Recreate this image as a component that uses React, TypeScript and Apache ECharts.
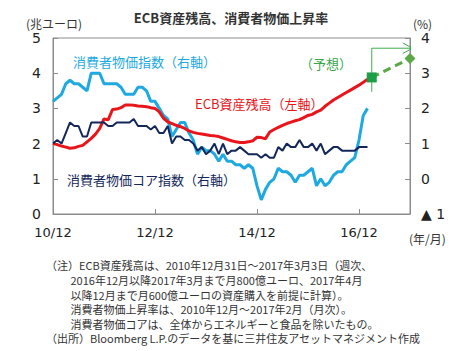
import React, { useEffect, useRef } from "react";
import * as echarts from "echarts";

// months since end of Dec 2010
const xTickLabels = ["10/12", "12/12", "14/12", "16/12"];

// ECB total assets (trillion EUR), end of month, Dec 2010 .. Feb/Mar 2017
const ecbAssets = [
  2.0, 1.97, 1.93, 1.9, 1.87, 1.88, 1.92, 1.95, 2.05, 2.15, 2.27, 2.43, 2.7,
  2.68, 2.97, 2.98, 3.02, 3.1, 3.1, 3.09, 3.07, 3.06, 3.05, 3.02, 3.0,
  2.9, 2.72, 2.62, 2.57, 2.52, 2.48, 2.43, 2.36, 2.32, 2.29, 2.27, 2.25,
  2.23, 2.22, 2.2, 2.16, 2.12, 2.08, 2.05, 2.03, 2.03, 2.05, 2.08, 2.18,
  2.17, 2.14, 2.33, 2.4, 2.46, 2.52, 2.57, 2.61, 2.65, 2.68, 2.74, 2.8,
  2.83, 2.9, 2.95, 3.06, 3.15, 3.24, 3.31, 3.38, 3.45, 3.52, 3.59, 3.66,
  3.74, 3.83,
];

// HICP yoy (%), Dec 2010 .. Feb 2017
const cpi = [
  2.2, 2.3, 2.4, 2.7, 2.8, 2.7, 2.7, 2.6, 2.5, 3.0, 3.0, 3.0, 2.7,
  2.7, 2.7, 2.7, 2.6, 2.4, 2.4, 2.4, 2.6, 2.6, 2.5, 2.2, 2.2,
  2.0, 1.8, 1.7, 1.2, 1.4, 1.6, 1.6, 1.3, 1.1, 0.7, 0.9, 0.8,
  0.8, 0.7, 0.5, 0.7, 0.5, 0.5, 0.4, 0.4, 0.3, 0.4, 0.3, -0.2,
  -0.6, -0.3, -0.1, 0.0, 0.3, 0.2, 0.2, 0.1, -0.1, 0.1, 0.1, 0.2,
  0.3, -0.2, 0.0, -0.2, -0.1, 0.1, 0.2, 0.2, 0.4, 0.5, 0.6, 1.1,
  1.8, 2.0,
];

// Core HICP yoy (%), Dec 2010 .. Feb 2017
const coreCpi = [
  1.0, 1.1, 1.0, 1.3, 1.6, 1.5, 1.5, 1.2, 1.2, 1.6, 1.6, 1.6, 1.6,
  1.5, 1.5, 1.6, 1.6, 1.6, 1.6, 1.7, 1.5, 1.5, 1.5, 1.4, 1.5,
  1.3, 1.3, 1.5, 1.0, 1.2, 1.2, 1.1, 1.1, 1.0, 0.8, 0.9, 0.7,
  0.8, 1.0, 0.7, 1.0, 0.7, 0.8, 0.8, 0.9, 0.8, 0.7, 0.7, 0.7,
  0.6, 0.7, 0.6, 0.6, 0.9, 0.8, 1.0, 0.9, 0.9, 1.1, 0.9, 0.9,
  1.0, 0.8, 1.0, 0.7, 0.8, 0.9, 0.9, 0.8, 0.8, 0.8, 0.8, 0.9,
  0.9, 0.9,
];

// forecast of ECB assets: [month index, trillion EUR]
const forecastX = [75, 84];
const forecastY = [3.88, 4.42];

// forecast bracket arrow (in data coordinates of left axis)
const arrowX = [75, 75, 84.5];
const arrowY = [3.47, 4.71, 4.71];
const arrowHeadX = [82.3, 84.6, 82.3];
const arrowHeadY = [4.86, 4.71, 4.56];

const notes = [
  "（注）ECB資産残高は、2010年12月31日～2017年3月3日（週次、",
  "　　 2016年12月以降2017年3月まで月800億ユーロ、2017年4月",
  "　　 以降12月まで月600億ユーロの資産購入を前提に計算）。",
  "　　 消費者物価上昇率は、2010年12月～2017年2月（月次）。",
  "　　 消費者物価コアは、全体からエネルギーと食品を除いたもの。",
  "（出所）Bloomberg L.P.のデータを基に三井住友アセットマネジメント作成",
];

const JP = "'Noto Sans CJK JP', sans-serif";
const NUM = "'DejaVu Sans', sans-serif";

export default function App() {
  const ref = useRef<HTMLDivElement>(null);
  useEffect(() => {
    if (!ref.current) return;
    const chart = echarts.init(ref.current, null, { renderer: "svg" });
    const pairs = (arr: number[]) => arr.map((v, i) => [i, v]);
    const zip = (xs: number[], ys: number[]) => xs.map((x, i) => [x, ys[i]]);

    chart.setOption({
      animation: false,
      grid: {
        left: 53,
        right: 64,
        top: 38,
        bottom: 137,
        show: true,
        borderColor: "#8c8c8c",
        borderWidth: 1,
      },
      xAxis: {
        type: "value",
        min: 0,
        max: 84,
        interval: 24,
        axisLine: { show: true, lineStyle: { color: "#8c8c8c" } },
        axisTick: { show: true, inside: true, length: 5, lineStyle: { color: "#8c8c8c" } },
        splitLine: { show: false },
        axisLabel: {
          margin: 12,
          fontSize: 13,
          fontFamily: NUM,
          color: "#222",
          showMaxLabel: false,
          formatter: (v: number) => (v % 24 === 0 ? xTickLabels[v / 24] ?? "" : ""),
        },
      },
      yAxis: [
        {
          type: "value",
          min: 0,
          max: 5,
          interval: 1,
          axisLine: { show: true, lineStyle: { color: "#8c8c8c" } },
          axisTick: { show: true, inside: true, length: 5, lineStyle: { color: "#8c8c8c" } },
          splitLine: { show: false },
          axisLabel: { margin: 12, fontSize: 14, fontFamily: NUM, color: "#222" },
        },
        {
          type: "value",
          min: -1,
          max: 4,
          interval: 1,
          position: "right",
          axisLine: { show: true, lineStyle: { color: "#8c8c8c" } },
          axisTick: { show: true, inside: true, length: 5, lineStyle: { color: "#8c8c8c" } },
          splitLine: { show: false },
          axisLabel: {
            margin: 11,
            fontSize: 14,
            fontFamily: NUM,
            color: "#222",
            formatter: (v: number) => (v < 0 ? "▲ " + Math.abs(v) : String(v)),
          },
        },
      ],
      series: [
        {
          name: "ECB資産残高",
          type: "line",
          yAxisIndex: 0,
          data: pairs(ecbAssets),
          showSymbol: false,
          lineStyle: { color: "#e8151b", width: 3 },
          z: 3,
        },
        {
          name: "消費者物価指数",
          type: "line",
          yAxisIndex: 1,
          data: pairs(cpi),
          showSymbol: false,
          lineStyle: { color: "#1ea9e1", width: 3 },
          z: 2,
        },
        {
          name: "消費者物価コア指数",
          type: "line",
          yAxisIndex: 1,
          data: pairs(coreCpi),
          showSymbol: false,
          lineStyle: { color: "#14275a", width: 2 },
          z: 4,
        },
        {
          name: "予想",
          type: "line",
          yAxisIndex: 0,
          data: zip(forecastX, forecastY).map((p, i) => ({
            value: p,
            symbol: i === 0 ? "rect" : "diamond",
            symbolSize: i === 0 ? 10 : 11,
            itemStyle: { color: i === 0 ? "#1d9f4a" : "#5aa847" },
          })),
          showSymbol: true,
          clip: false,
          lineStyle: { color: "#5aa847", width: 3, type: [8, 5] },
          z: 5,
        },
        {
          name: "arrow",
          type: "line",
          yAxisIndex: 0,
          data: zip(arrowX, arrowY),
          showSymbol: false,
          clip: false,
          lineStyle: { color: "#3cb04c", width: 1 },
          z: 1,
        },
        {
          name: "arrowHead",
          type: "line",
          yAxisIndex: 0,
          data: zip(arrowHeadX, arrowHeadY),
          showSymbol: false,
          clip: false,
          lineStyle: { color: "#3cb04c", width: 1 },
          z: 1,
        },
      ],
      graphic: [
        {
          type: "text",
          x: 231,
          y: 17,
          style: {
            text: "ECB資産残高、消費者物価上昇率",
            font: `bold 13px ${JP}`,
            fill: "#333",
            textAlign: "center",
            textVerticalAlign: "middle",
          },
        },
        {
          type: "text",
          x: 26,
          y: 23,
          style: { text: "(兆ユーロ)", font: `12px ${JP}`, fill: "#333", textVerticalAlign: "middle" },
        },
        {
          type: "text",
          x: 413,
          y: 23,
          style: { text: "(%)", font: `12px ${JP}`, fill: "#333", textVerticalAlign: "middle" },
        },
        {
          type: "text",
          x: 409,
          y: 238,
          style: { text: "(年/月)", font: `12px ${JP}`, fill: "#333", textVerticalAlign: "middle" },
        },
        {
          type: "text",
          x: 73,
          y: 61,
          style: { text: "消費者物価指数（右軸）", font: `13px ${JP}`, fill: "#1ea9e1", textVerticalAlign: "middle" },
        },
        {
          type: "text",
          x: 195,
          y: 103,
          style: { text: "ECB資産残高（左軸）", font: `13px ${JP}`, fill: "#e8151b", textVerticalAlign: "middle" },
        },
        {
          type: "text",
          x: 67,
          y: 179,
          style: { text: "消費者物価コア指数（右軸）", font: `13px ${JP}`, fill: "#14275a", textVerticalAlign: "middle" },
        },
        {
          type: "text",
          x: 300,
          y: 63,
          style: { text: "（予想）", font: `13px ${JP}`, fill: "#3aa64a", textVerticalAlign: "middle" },
        },
        {
          type: "text",
          x: 46,
          y: 258,
          style: {
            text: notes.join("\n"),
            font: `11px ${JP}`,
            lineHeight: 14.6,
            fill: "#333",
            textVerticalAlign: "top",
          },
        },
      ],
    });
    return () => chart.dispose();
  }, []);
  return <div ref={ref} style={{ width: 474, height: 351, position: "absolute", left: 0, top: 0 }} />;
}
